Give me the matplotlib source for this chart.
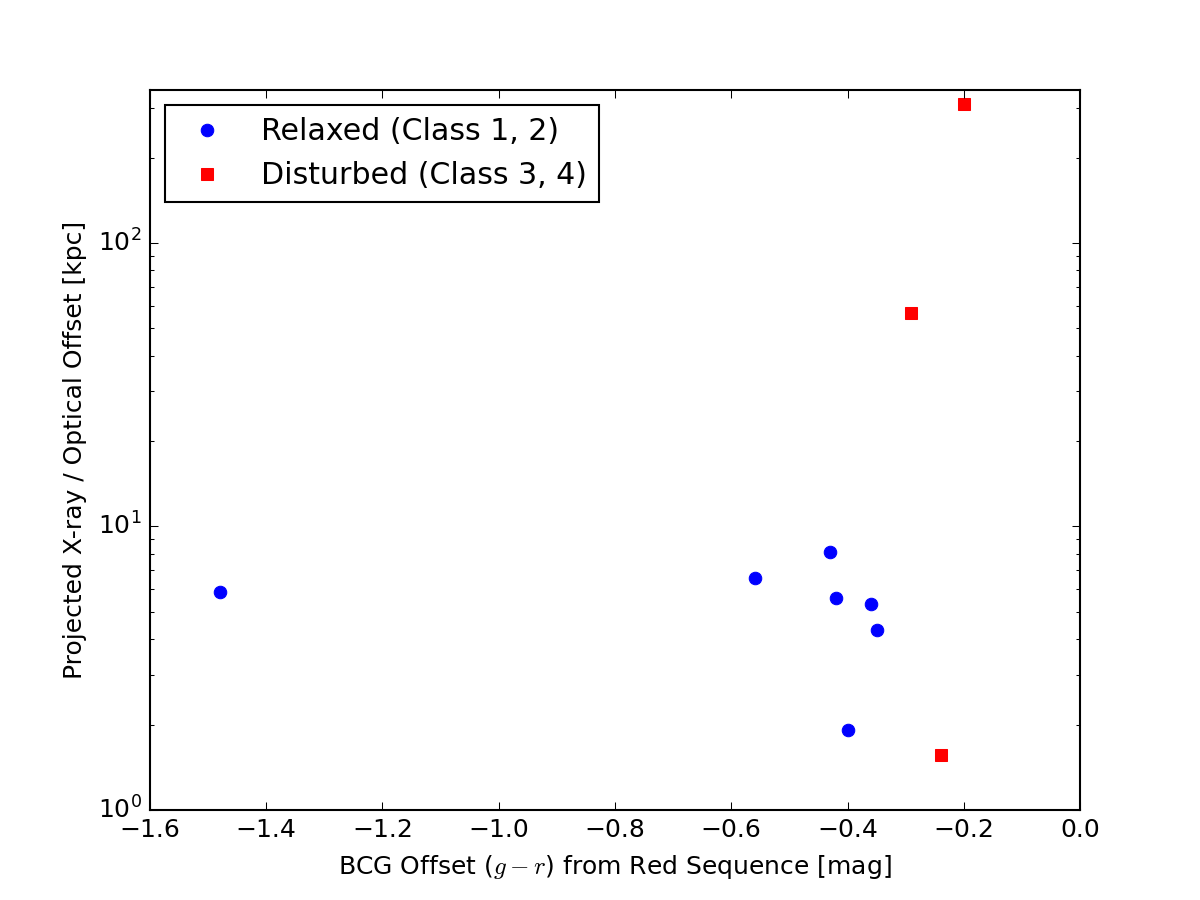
import matplotlib
matplotlib.use("Agg")
import matplotlib.pyplot as plt

# Relaxed clusters (class 1, 2)
relaxed_x = [-1.48, -0.56, -0.43, -0.42, -0.36, -0.35, -0.40]
relaxed_y = [5.87, 6.58, 8.13, 5.59, 5.33, 4.31, 1.92]

# Disturbed clusters (class 3, 4)
disturbed_x = [-0.20, -0.29, -0.24]
disturbed_y = [309.0, 56.6, 1.56]

plt.style.use("classic")
fig = plt.figure(figsize=(8, 6), dpi=150)
ax = fig.add_subplot(111)

ax.plot(relaxed_x, relaxed_y, "bo", mec="b", label="Relaxed (Class 1, 2)")
ax.plot(disturbed_x, disturbed_y, "rs", mec="r", label="Disturbed (Class 3, 4)")

ax.set_yscale("log")
ax.set_xlim(-1.6, 0.0)
ax.set_ylim(1, 346)
ax.set_xlabel("BCG Offset ($g-r$) from Red Sequence [mag]")
ax.set_ylabel("Projected X-ray / Optical Offset [kpc]")
ax.legend(loc="upper left", numpoints=1, fontsize="large")

fig.savefig("out.png", dpi=150)
